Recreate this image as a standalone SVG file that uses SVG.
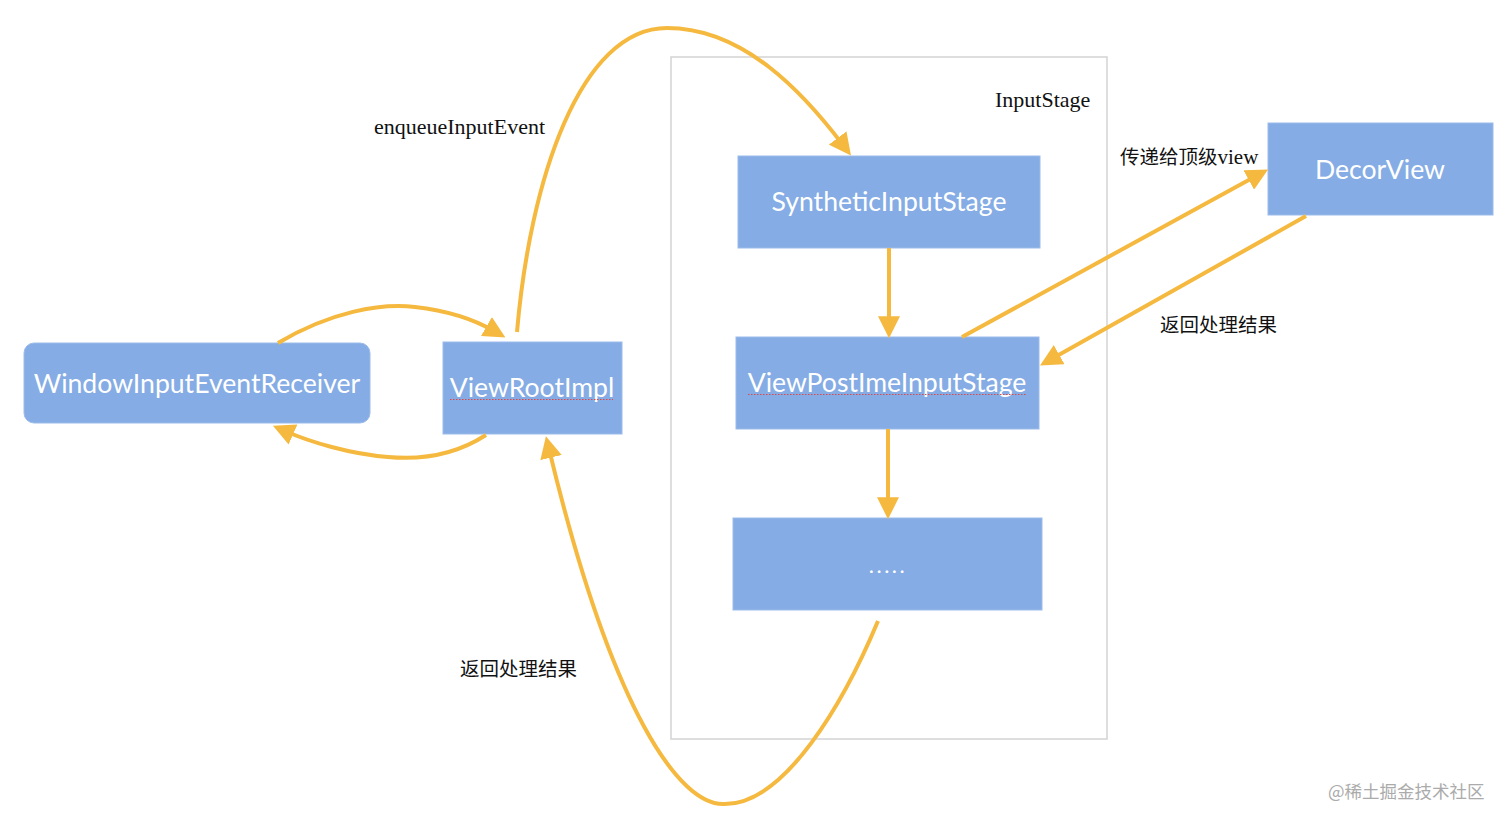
<svg xmlns="http://www.w3.org/2000/svg" width="1512" height="826" viewBox="0 0 1512 826">
  <defs>
    <marker id="arrow" markerUnits="userSpaceOnUse" markerWidth="22" markerHeight="22" viewBox="0 0 20 20" refX="8" refY="10" orient="auto">
      <path d="M0,0 L20,10 L0,20 z" fill="#F5B940"/>
    </marker>
  </defs>
  <style>
    .box { fill: #85ACE4; stroke: #9CBCEB; stroke-width: 1; }
    .lbl { font-family: Lato, "Open Sans", sans-serif; font-size: 26.6px; fill: #FFFFFF; text-anchor: middle; }
    .note { font-family: "Liberation Serif", "Noto Sans CJK SC", serif; font-size: 22px; fill: #111111; }
    .cjk { font-family: "Liberation Serif", "Noto Sans CJK SC", serif; font-size: 19.5px; fill: #111111; }
    .conn { fill: none; stroke: #F5B940; stroke-width: 4; marker-end: url(#arrow); }
    .squiggle { stroke: #D84A4A; stroke-width: 1; stroke-dasharray: 1.5 1.5; fill: none; }
  </style>
  <rect width="1512" height="826" fill="#FFFFFF"/>

  <g id="inputstage-container">
    <rect x="671" y="57" width="436" height="682" fill="none" stroke="#D3D3D3" stroke-width="1.5"/>
    <text class="note" x="995" y="107">InputStage</text>
  </g>

  <g id="node-window">
    <rect class="box" x="24" y="343" width="346" height="80" rx="10"/>
    <text class="lbl" x="197" y="393">WindowInputEventReceiver</text>
  </g>

  <g id="node-viewrootimpl">
    <rect class="box" x="443" y="342" width="179" height="92"/>
    <text class="lbl" x="532" y="397">ViewRootImpl</text>
    <path class="squiggle" d="M450,399.5 L613,399.5"/>
  </g>

  <g id="node-synthetic">
    <rect class="box" x="738" y="156" width="302" height="92"/>
    <text class="lbl" x="889" y="211">SyntheticInputStage</text>
  </g>

  <g id="node-viewpostime">
    <rect class="box" x="736" y="337" width="303" height="92"/>
    <text class="lbl" x="887" y="392">ViewPostImeInputStage</text>
    <path class="squiggle" d="M748,394.5 L1026,394.5"/>
  </g>

  <g id="node-more">
    <rect class="box" x="733" y="518" width="309" height="92"/>
    <text class="lbl" x="888" y="573" style="font-size:22px;letter-spacing:2.5px">.....</text>
  </g>

  <g id="node-decorview">
    <rect class="box" x="1268" y="123" width="225" height="92"/>
    <text class="lbl" x="1380" y="179">DecorView</text>
  </g>

  <g id="connectors">
    <path class="conn" d="M278,343 C330,312 380,303 415,307 C450,311 475,320 494,331"/>
    <path class="conn" d="M486,435 C455,455 420,460 388,457 C350,454 310,442 285,431"/>
    <path class="conn" d="M517,332 C530,180 580,28 667,28 C745,28 805,95 843,145"/>
    <path class="conn" d="M889,248 L889,325"/>
    <path class="conn" d="M888,429 L888,506"/>
    <path class="conn" d="M962,337 L1256.5,175.8"/>
    <path class="conn" d="M1306,216 L1051.5,359"/>
    <path class="conn" d="M878,621 C845,700 785,806 723,804 C680,804 613,715 549,449"/>
  </g>

  <g id="labels">
    <text class="note" x="374" y="134">enqueueInputEvent</text>
    <text class="cjk" x="1120" y="164">传递给顶级<tspan style="font-size:21px">view</tspan></text>
    <text class="cjk" x="1160" y="332">返回处理结果</text>
    <text class="cjk" x="460" y="676">返回处理结果</text>
    <text x="1328" y="798" style="font-family:'Noto Sans CJK SC',sans-serif;font-size:17.5px;fill:#ABABAB">@稀土掘金技术社区</text>
  </g>
</svg>
